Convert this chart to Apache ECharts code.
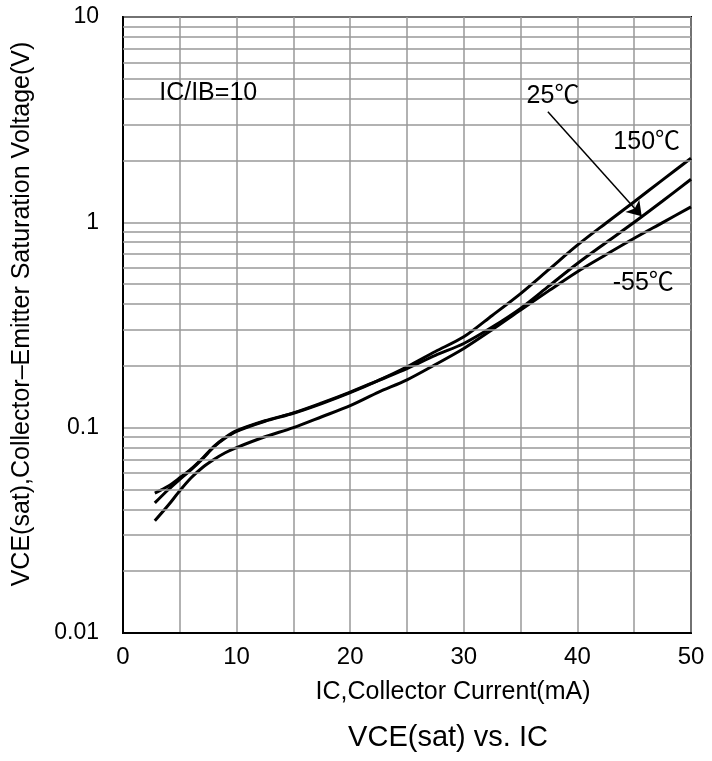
<!DOCTYPE html>
<html>
<head>
<meta charset="utf-8">
<script src="https://cdn.jsdelivr.net/npm/echarts@6/dist/echarts.min.js"></script>
<style>
html,body{margin:0;padding:0;background:#fff;}
#chart{width:712px;height:761px;}
</style>
</head>
<body>
<div id="chart"></div>
<script>
// ---- data ----
const icValues = [2.8, 4, 5, 6, 7, 8, 9, 10, 12.5, 15, 17.5, 20, 22.5, 25, 27.5, 30, 32.5, 35, 37.5, 40, 42.5, 45, 47.5, 50];
const vce25C  = [0.048, 0.052, 0.057, 0.063, 0.071, 0.081, 0.0895, 0.0966, 0.108, 0.118, 0.132, 0.149, 0.170, 0.194, 0.225, 0.257, 0.309, 0.381, 0.49, 0.63, 0.795, 1.0, 1.27, 1.62];
const vce150C = [0.043, 0.050, 0.056, 0.0625, 0.0705, 0.0805, 0.089, 0.096, 0.1075, 0.1175, 0.131, 0.148, 0.170, 0.198, 0.235, 0.277, 0.352, 0.45, 0.59, 0.774, 0.99, 1.26, 1.61, 2.05];
const vceM55C = [0.0352, 0.042, 0.0493, 0.057, 0.064, 0.070, 0.0755, 0.080, 0.0903, 0.100, 0.113, 0.128, 0.149, 0.171, 0.203, 0.243, 0.300, 0.374, 0.465, 0.575, 0.695, 0.836, 0.997, 1.19];
const xTickLabels = [0, 10, 20, 30, 40, 50];
const yTickLabels = [0.01, 0.1, 1, 10];
const yMinorGrid = [0.02,0.03,0.04,0.05,0.06,0.07,0.08,0.09,0.2,0.3,0.4,0.5,0.6,0.7,0.8,0.9,2,3,4,5,6,7,8,9];
const conditionText = 'IC/IB=10';
const seriesNames = ['25℃', '150℃', '-55℃'];
// annotation anchors in data units [IC (mA), VCE (V)]
const conditionAt = [7.5, 4.27];
const label25At = [37.85, 4.12];
const label150At = [46.1, 2.46];
const labelM55At = [45.8, 0.506];
const arrowFrom = [37.4, 3.46];
const arrowTo = [45.66, 1.07];

const FONT = "'Liberation Sans', Arial, 'Noto Sans CJK SC', sans-serif";
const toPairs = arr => icValues.map((x, i) => [x, arr[i]]);

function textPoint(coord, text) {
  return {
    coord: coord,
    symbol: 'rect', symbolSize: 1,
    itemStyle: { color: 'rgba(0,0,0,0)' },
    label: { show: true, position: 'inside', formatter: text, color: '#000', fontSize: 25, fontFamily: FONT }
  };
}

const chart = echarts.init(document.getElementById('chart'));
const curveStyle = { color: '#000', width: 3 };

chart.setOption({
  animation: false,
  backgroundColor: '#fff',
  grid: { left: 123, right: 21, top: 17, bottom: 128, show: true, borderColor: '#000', borderWidth: 2, backgroundColor: 'rgba(0,0,0,0)' },
  xAxis: {
    type: 'value', min: 0, max: 50, interval: 5,
    name: 'IC,Collector Current(mA)', nameLocation: 'middle', nameGap: 47,
    nameTextStyle: { color: '#000', fontSize: 25, fontFamily: FONT, padding: [0, 0, 0, 92] },
    axisLine: { show: true, lineStyle: { color: '#000', width: 2 } },
    axisTick: { show: false },
    axisLabel: {
      color: '#000', fontSize: 24, fontFamily: FONT, margin: 12,
      formatter: v => (xTickLabels.indexOf(v) >= 0 ? String(v) : '')
    },
    splitLine: { show: true, lineStyle: { color: '#999', width: 1.5 } }
  },
  yAxis: {
    type: 'log', logBase: 10, min: 0.01, max: 10,
    name: 'VCE(sat),Collector\u2013Emitter Saturation Voltage(V)', nameLocation: 'middle', nameRotate: 90, nameGap: 88,
    nameTextStyle: { color: '#000', fontSize: 25, fontFamily: FONT, padding: [0, 0, 0, 22] },
    axisLine: { show: true, lineStyle: { color: '#000', width: 2 } },
    axisTick: { show: false },
    axisLabel: {
      color: '#000', fontSize: 23, fontFamily: FONT, margin: 24,
      formatter: v => { const n = +(+v).toPrecision(3); return yTickLabels.indexOf(n) >= 0 ? String(n) : ''; }
    },
    splitLine: { show: true, lineStyle: { color: '#999', width: 1.5 } }
  },
  graphic: [{
    type: 'text', x: 448, y: 738,
    style: { text: 'VCE(sat) vs. IC', fill: '#000', font: '29px ' + FONT, textAlign: 'center', textVerticalAlign: 'middle' }
  }],
  series: [
    {
      type: 'line', name: 'grid', data: [], z: 1, silent: true,
      markLine: {
        silent: true, symbol: ['none', 'none'], animation: false,
        label: { show: false },
        lineStyle: { color: '#999', width: 1.5, type: 'solid' },
        emphasis: { disabled: true },
        data: yMinorGrid.map(v => ({ yAxis: v }))
      }
    },
    {
      type: 'line', name: seriesNames[0], data: toPairs(vce25C), smooth: 0.3, showSymbol: false, z: 3,
      lineStyle: curveStyle, itemStyle: { color: '#000' },
      markLine: {
        silent: true, symbol: ['none', 'arrow'], symbolSize: 14, animation: false,
        label: { show: false },
        itemStyle: { color: '#000' },
        lineStyle: { color: '#000', width: 1.5, type: 'solid' },
        data: [[{ coord: arrowFrom }, { coord: arrowTo }]]
      },
      markPoint: {
        silent: true, animation: false,
        data: [textPoint(conditionAt, conditionText), textPoint(label25At, seriesNames[0]),
               textPoint(label150At, seriesNames[1]), textPoint(labelM55At, seriesNames[2])]
      }
    },
    {
      type: 'line', name: seriesNames[1], data: toPairs(vce150C), smooth: 0.3, showSymbol: false, z: 3,
      lineStyle: curveStyle, itemStyle: { color: '#000' }
    },
    {
      type: 'line', name: seriesNames[2], data: toPairs(vceM55C), smooth: 0.3, showSymbol: false, z: 3,
      lineStyle: curveStyle, itemStyle: { color: '#000' }
    }
  ]
});
</script>
</body>
</html>
